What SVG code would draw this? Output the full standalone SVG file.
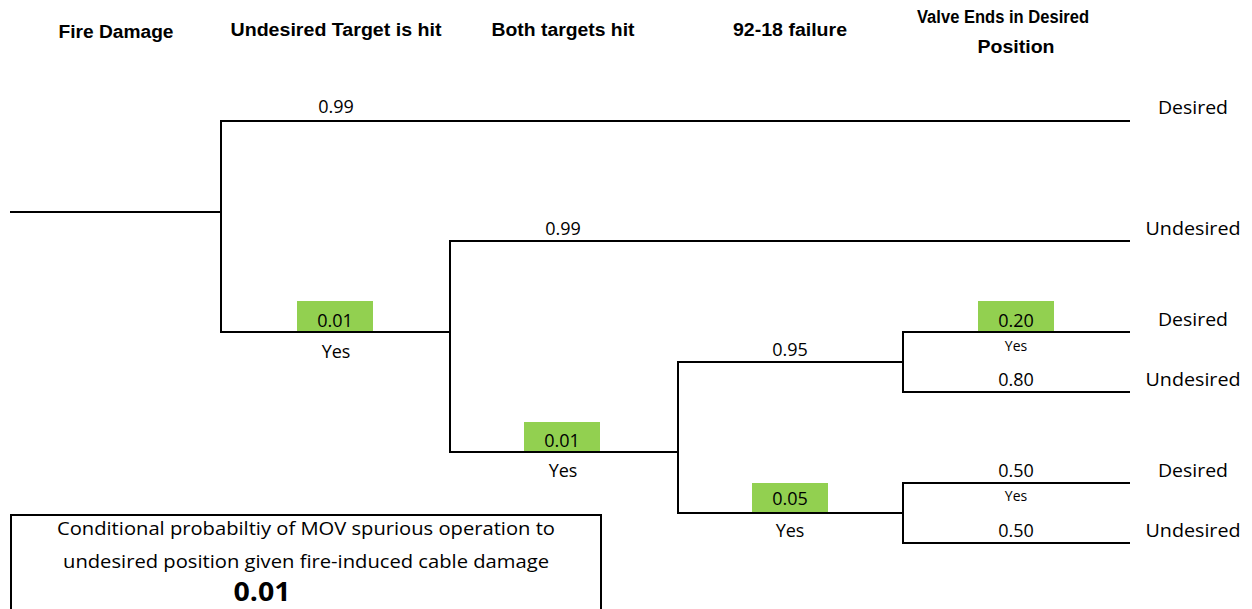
<svg xmlns="http://www.w3.org/2000/svg" width="1252" height="609" viewBox="0 0 1252 609">
<style>
.h{font-family:"Liberation Sans",Arial,sans-serif;font-weight:bold;font-size:18px;text-anchor:middle;fill:#000}
.v{font-family:"Open Sans","Noto Sans",sans-serif;font-size:18px;text-anchor:middle;fill:#000}
.s{font-family:"Open Sans","Noto Sans",sans-serif;font-size:14px;text-anchor:middle;fill:#000}
.o{font-family:"Open Sans","Noto Sans",sans-serif;font-size:19px;text-anchor:middle;fill:#000}
.g{fill:#92d050}
.ln{stroke:#000;stroke-width:2;fill:none}
</style>
<rect width="1252" height="609" fill="#fff"/>
<g id="headers">
<text class="h" x="116" y="38" textLength="115" lengthAdjust="spacingAndGlyphs">Fire Damage</text>
<text class="h" x="336" y="36" textLength="211" lengthAdjust="spacingAndGlyphs">Undesired Target is hit</text>
<text class="h" x="563" y="36" textLength="143" lengthAdjust="spacingAndGlyphs">Both targets hit</text>
<text class="h" x="790" y="36" textLength="114" lengthAdjust="spacingAndGlyphs">92-18 failure</text>
<text class="h" x="1003" y="23" textLength="172" lengthAdjust="spacingAndGlyphs">Valve Ends in Desired</text>
<text class="h" x="1016" y="53" textLength="77" lengthAdjust="spacingAndGlyphs">Position</text>
</g>
<g id="greens">
<rect class="g" x="297" y="301" width="76" height="31"/>
<rect class="g" x="524" y="422" width="76" height="30"/>
<rect class="g" x="752" y="483" width="76" height="30"/>
<rect class="g" x="978" y="301" width="76" height="31"/>
</g>
<g id="connectors">
<path class="ln" d="M10 212H221M221 120V333M221 121H1130M221 332H451M450 240V453M450 241H1130M450 452H679M678 361V514M678 362H904M678 513H904M903 331V393M903 332H1130M903 392H1130M903 482V544M903 483H1130M903 543H1130"/>
</g>
<g id="labels">
<text class="v" x="336" y="113">0.99</text>
<text class="v" x="335" y="327">0.01</text>
<text class="v" x="336" y="358">Yes</text>
<text class="v" x="563" y="235">0.99</text>
<text class="v" x="562" y="447">0.01</text>
<text class="v" x="563" y="477">Yes</text>
<text class="v" x="790" y="356">0.95</text>
<text class="v" x="790" y="505">0.05</text>
<text class="v" x="790" y="537">Yes</text>
<text class="v" x="1016" y="327">0.20</text>
<text class="s" x="1016" y="351">Yes</text>
<text class="v" x="1016" y="386">0.80</text>
<text class="v" x="1016" y="477">0.50</text>
<text class="s" x="1016" y="501">Yes</text>
<text class="v" x="1016" y="537">0.50</text>
</g>
<g id="outcomes">
<text class="v" x="1193" y="114" textLength="70" lengthAdjust="spacingAndGlyphs">Desired</text>
<text class="v" x="1193" y="235" textLength="95" lengthAdjust="spacingAndGlyphs">Undesired</text>
<text class="v" x="1193" y="326" textLength="70" lengthAdjust="spacingAndGlyphs">Desired</text>
<text class="v" x="1193" y="386" textLength="95" lengthAdjust="spacingAndGlyphs">Undesired</text>
<text class="v" x="1193" y="477" textLength="70" lengthAdjust="spacingAndGlyphs">Desired</text>
<text class="v" x="1193" y="537" textLength="95" lengthAdjust="spacingAndGlyphs">Undesired</text>
</g>
<g id="resultbox">
<path class="ln" d="M11 620V515H601V620"/>
<text class="o" x="306" y="535" textLength="498" lengthAdjust="spacingAndGlyphs">Conditional probabiltiy of MOV spurious operation to</text>
<text class="o" x="306" y="568" textLength="486" lengthAdjust="spacingAndGlyphs">undesired position given fire-induced cable damage</text>
<text class="o" x="262" y="601" style="font-weight:bold;font-size:26px" textLength="57" lengthAdjust="spacingAndGlyphs">0.01</text>
</g>
</svg>
